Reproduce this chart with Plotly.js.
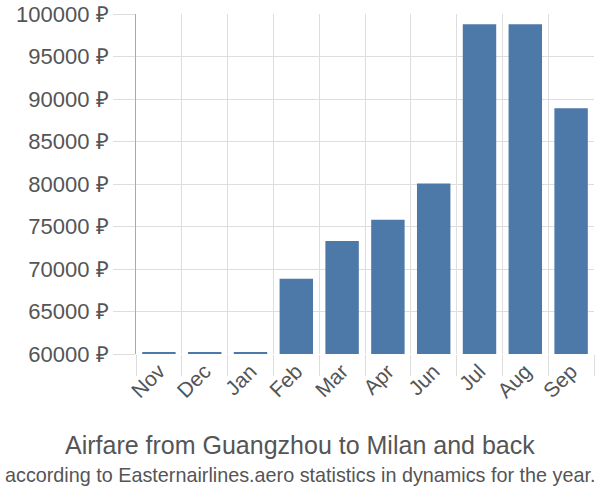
<!DOCTYPE html>
<html><head><meta charset="utf-8">
<script src="https://cdn.plot.ly/plotly-3.0.1.min.js"></script>
<style>body{margin:0;background:#fff}#c{width:600px;height:500px}</style>
</head><body><div id="c"></div>
<script>
var months = ["Nov","Dec","Jan","Feb","Mar","Apr","Jun","Jul","Aug","Sep"];
var prices = [60250, 60250, 60250, 68850, 73300, 75800, 80050, 98800, 98800, 88900];
var yTicks = [60000, 65000, 70000, 75000, 80000, 85000, 90000, 95000, 100000];
var yTickText = yTicks.map(function (v) { return v + " ₽"; });
var titleMain = "Airfare from Guangzhou to Milan and back";
var titleSub = "according to Easternairlines.aero statistics in dynamics for the year.";

var fam = "Liberation Sans, Arial, sans-serif";
var grey = "#555555";
Plotly.newPlot("c", [{
  type: "bar", x: months, y: prices,
  marker: {color: "#4d79a8"},
  hoverinfo: "none"
}], {
  width: 600, height: 500,
  margin: {l: 136, r: 6, t: 14, b: 146},
  paper_bgcolor: "#fff", plot_bgcolor: "#fff",
  bargap: 0.27,
  showlegend: false,
  font: {family: fam, color: grey},
  xaxis: {
    type: "category", tickson: "boundaries", ticks: "outside", ticklen: 21,
    tickcolor: "#dddddd", showgrid: true, gridcolor: "#dddddd", gridwidth: 1,
    tickangle: -45, tickfont: {size: 21, color: grey, family: fam},
    showline: false, zeroline: false, fixedrange: true
  },
  yaxis: {
    range: [60000, 100000], tickmode: "array", tickvals: yTicks, ticktext: yTickText,
    ticks: "outside", ticklen: 22, tickcolor: "#dddddd",
    showgrid: true, gridcolor: "#dddddd", gridwidth: 1,
    showline: true, linecolor: "#aaaaaa", linewidth: 1,
    zeroline: false, tickfont: {size: 22, color: grey, family: fam}
  },
  annotations: [
    {text: titleMain, xref: "paper", yref: "paper", x: 0.358, y: -0.268, xanchor: "center", yanchor: "middle",
     showarrow: false, font: {size: 25, color: grey, family: fam}},
    {text: titleSub, xref: "paper", yref: "paper", x: 0.358, y: -0.356, xanchor: "center", yanchor: "middle",
     showarrow: false, font: {size: 19.8, color: grey, family: fam}}
  ]
}, {displayModeBar: false, staticPlot: true});
</script></body></html>
